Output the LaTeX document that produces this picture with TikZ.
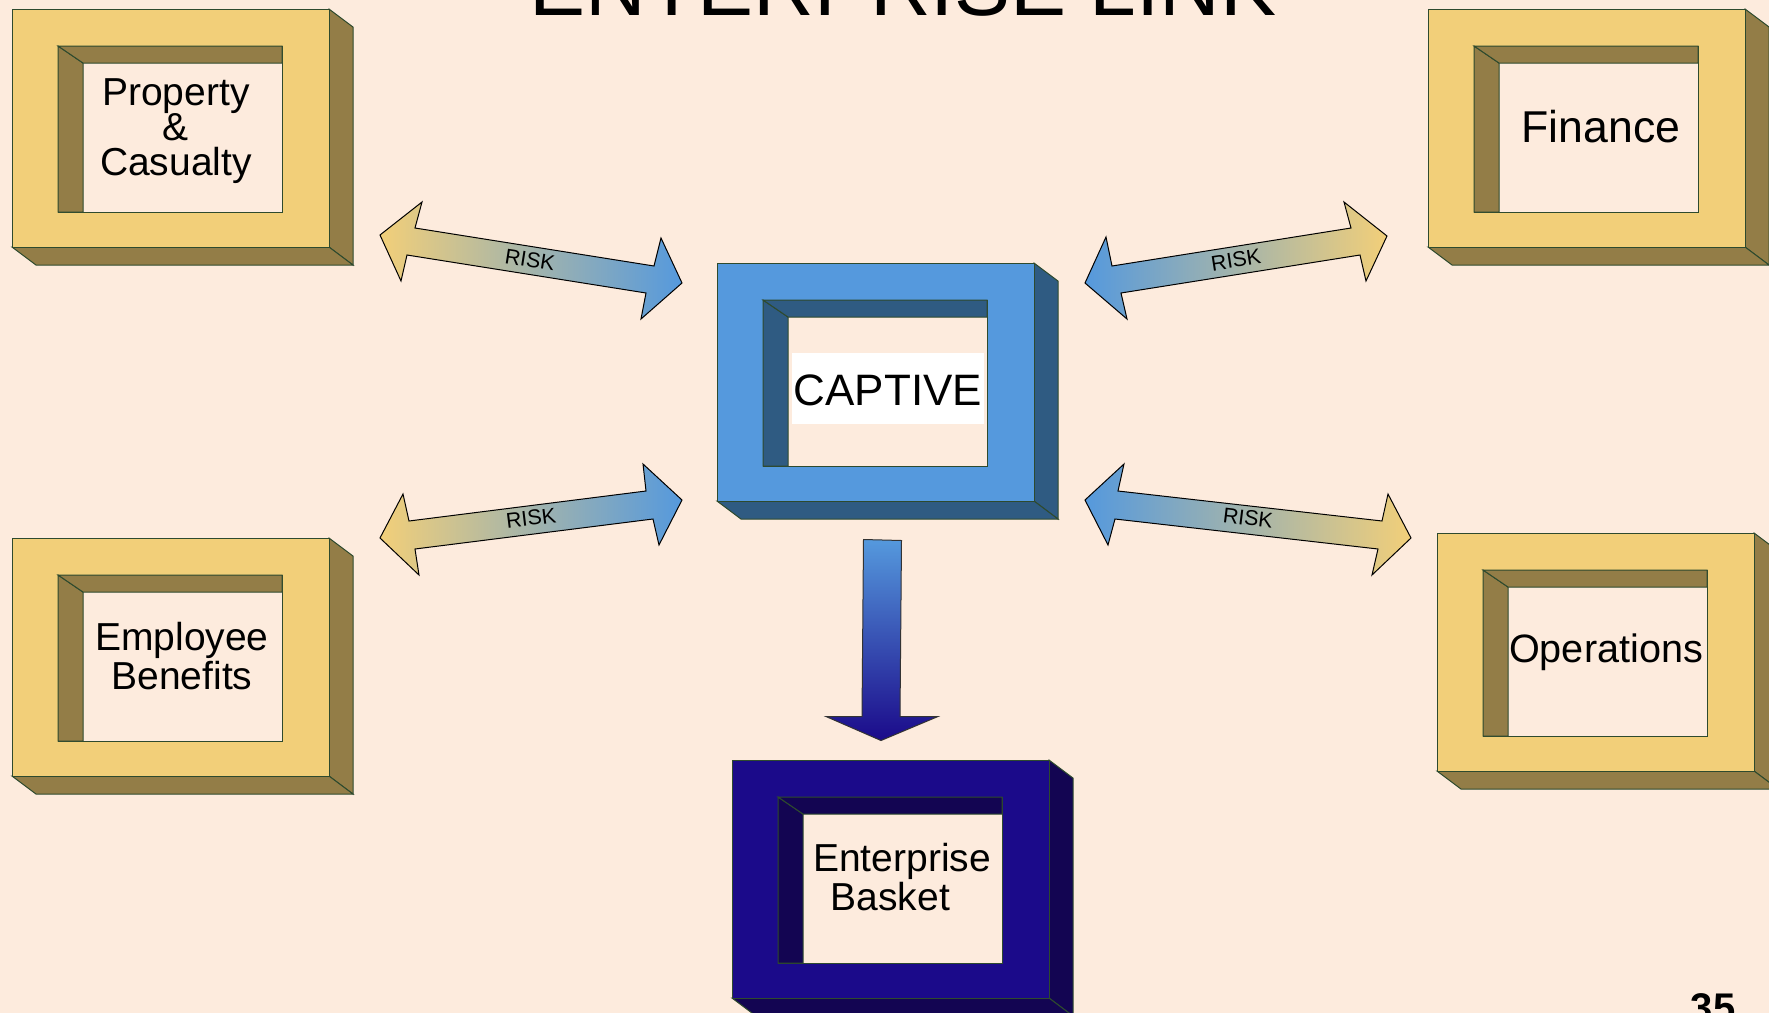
\documentclass[tikz,border=0pt]{standalone}
\usepackage{fontspec}
\setmainfont{Liberation Sans}
\usetikzlibrary{calc}
\definecolor{bg}{HTML}{FDEBDD}
\definecolor{edge}{HTML}{2E4A2E}
\definecolor{goldfront}{HTML}{F2CF79}
\definecolor{golddark}{HTML}{937D47}
\definecolor{bluefront}{HTML}{5599DD}
\definecolor{bluedark}{HTML}{2F5B82}
\definecolor{navyfront}{HTML}{1B0A8A}
\definecolor{navydark}{HTML}{130552}
\definecolor{rgold}{HTML}{F2CF79}
\definecolor{rblue}{HTML}{5599DD}

% A raised frame: #1 name, #2/#3 top-left corner of the front face,
% #4 front colour, #5 shadow colour (depth faces and inner bevel)
\newcommand{\frameblock}[5]{%
  \begin{scope}[shift={(#2,#3)}]
    \filldraw[fill=#5, edgeline] (317,0) -- (341,18) -- (341,256) -- (317,238) -- cycle;
    \filldraw[fill=#5, edgeline] (0,238) -- (317,238) -- (341,256) -- (24,256) -- cycle;
    \node[frontface, fill=#4] (#1) at (158.5,119) {};
    \node[windowface] (#1-win) at (158,120) {};
    \filldraw[fill=#5, edgeline] (46,37) -- (71,54) -- (71,203) -- (46,203) -- cycle;
    \filldraw[fill=#5, edgeline] (46,37) -- (270,37) -- (270,54) -- (71,54) -- cycle;
  \end{scope}}

\begin{document}
\begin{tikzpicture}[x=0.5pt, y=-0.5pt,
  edgeline/.style={draw=edge, line width=0.5pt, line join=miter},
  frontface/.style={rectangle, draw=edge, line width=0.5pt, inner sep=0pt,
    minimum width=158.5pt, minimum height=119pt},
  windowface/.style={rectangle, draw=edge, line width=0.5pt, inner sep=0pt,
    fill=bg, minimum width=112pt, minimum height=83pt},
  label/.style={inner sep=0pt, align=center, font=\fontsize{19.5}{17.6}\selectfont},
  riskarrow/.style={draw=black, line width=0.5pt, line join=miter},
  risktext/.style={inner sep=0pt, font=\fontsize{10.7}{12}\selectfont}]

  \useasboundingbox (0,0) rectangle (1769,1013);
  \fill[bg] (0,0) rectangle (1769,1013);

  % title, mostly above the top edge
  \node[anchor=base, inner sep=0pt, font=\fontsize{42}{48}\selectfont] (title)
    at (903,15.5) {ENTERPRISE LINK};

  % the six frames
  \frameblock{pc}{12}{9}{goldfront}{golddark}
  \frameblock{fin}{1428}{9}{goldfront}{golddark}
  \frameblock{emp}{12}{538}{goldfront}{golddark}
  \frameblock{ops}{1437}{533}{goldfront}{golddark}
  \frameblock{captive}{717}{263}{bluefront}{bluedark}
  \frameblock{basket}{732}{760}{navyfront}{navydark}

  % frame captions
  \node[label] (pc-text) at (176,131) {Property\\\&\\Casualty};
  \node[label, font=\fontsize{22.3}{24}\selectfont] (fin-text) at (1601,127) {Finance};
  \node[label] (emp-text) at (182,656) {Employee\\Benefits};
  \node[label, font=\fontsize{19.8}{22}\selectfont] (ops-text) at (1606,652) {Operations};
  \fill[white] (792,353) rectangle (984,424);
  \node[label, font=\fontsize{22}{24}\selectfont] (captive-text) at (888,390) {CAPTIVE};
  \node[label] (basket-text) at (902,877) {Enterprise\\Basket\hspace*{0.6em}};

  % risk transfer arrows between the business lines and the captive
  \path[riskarrow, left color=rgold, right color=rblue]
    (380,235) -- (422,202) -- (415,228) -- (654,266) -- (661,238) -- (682,283)
    -- (641,319) -- (646,293) -- (407,255) -- (401,281) -- cycle;
  \node[risktext, rotate=-9] (risk-pc) at (530,260) {RISK};

  \path[riskarrow, left color=rblue, right color=rgold]
    (1085,283) -- (1106,237) -- (1112,266) -- (1351,228) -- (1344,202) -- (1387,236)
    -- (1366,281) -- (1360,255) -- (1121,293) -- (1127,319) -- cycle;
  \node[risktext, rotate=9] (risk-fin) at (1236,260) {RISK};

  \path[riskarrow, left color=rgold, right color=rblue]
    (380,538) -- (403,494) -- (409,521) -- (646,491) -- (643,464) -- (682,500)
    -- (659,545) -- (653,519) -- (415,549) -- (419,575) -- cycle;
  \node[risktext, rotate=7] (risk-emp) at (531,518) {RISK};

  \path[riskarrow, left color=rblue, right color=rgold]
    (1085,500) -- (1124,464) -- (1118,491) -- (1382,521) -- (1388,494) -- (1411,538)
    -- (1372,575) -- (1378,549) -- (1115,519) -- (1108,545) -- cycle;
  \node[risktext, rotate=-7] (risk-ops) at (1248,518) {RISK};

  % captive feeds the enterprise basket
  \coordinate (flowtop) at ($(captive.south)+(7,38)$);
  \coordinate (flowtip) at ($(basket.north)+(-9.5,-19)$);
  \path[draw=black!80, line width=0.5pt, top color=rblue, bottom color=navyfront]
    ($(flowtop)+(-19,0)$) -- ($(flowtop)+(19,1)$) -- ($(flowtip)+(19,-24)$)
    -- ($(flowtip)+(57,-24)$) -- (flowtip) -- ($(flowtip)+(-55,-24)$)
    -- ($(flowtip)+(-19,-24)$) -- cycle;

  % page number
  \node[anchor=base, inner sep=0pt, font=\bfseries\fontsize{20}{24}\selectfont] (pageno)
    at (1713,1021) {35};
\end{tikzpicture}
\end{document}
